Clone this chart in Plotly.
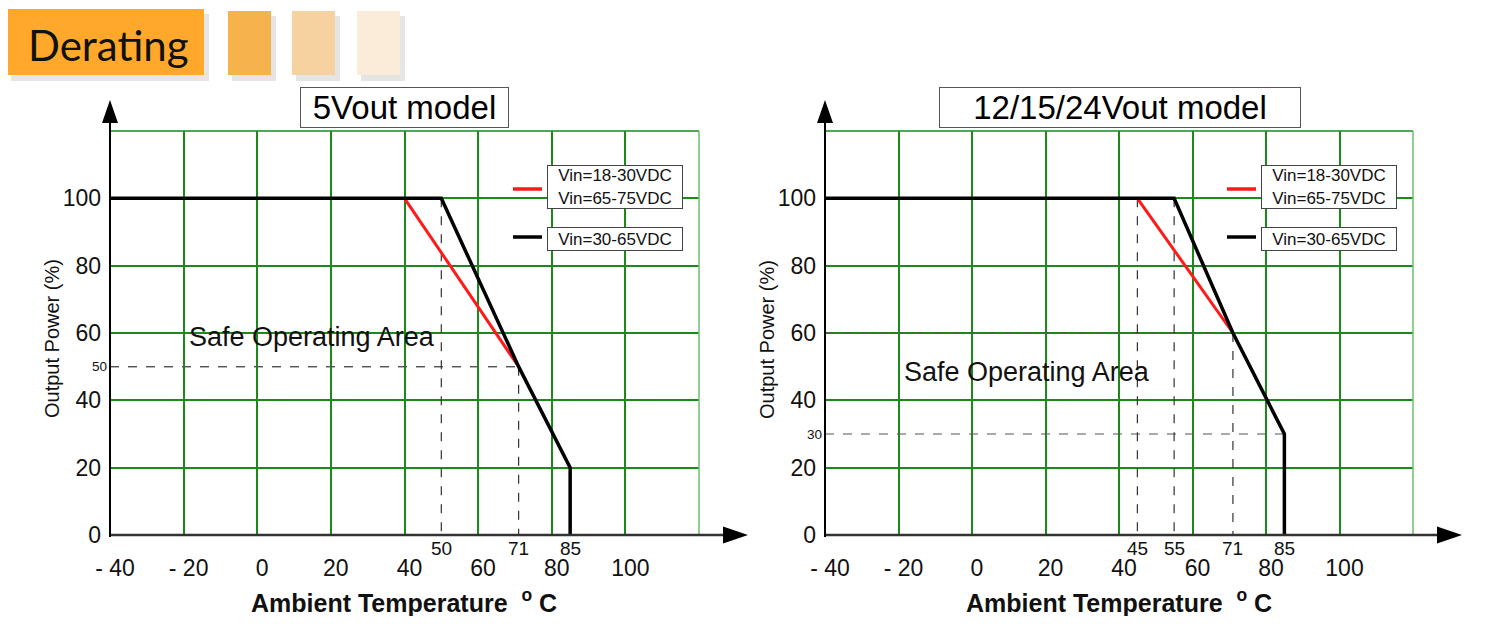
import plotly.graph_objects as go

# ---------------- data ----------------
x_ticks = [-40, -20, 0, 20, 40, 60, 80, 100]
x_tick_text = ["- 40", "- 20", "0", "20", "40", "60", "80", "100"]
x_range = [-40, 120]
y_ticks = [0, 20, 40, 60, 80, 100]
y_tick_text = ["0", "20", "40", "60", "80", "100"]
y_range = [0, 120]

left_title = "5Vout model"
left_black_x = [-40, 50, 71, 85, 85]
left_black_y = [100, 100, 50, 20, 0]
left_red_x = [40, 71]
left_red_y = [100, 50]
left_mark_x = [50, 71, 85]
left_mark_y = [50]

right_title = "12/15/24Vout model"
right_black_x = [-40, 55, 71, 85, 85]
right_black_y = [100, 100, 60, 30, 0]
right_red_x = [45, 71]
right_red_y = [100, 60]
right_mark_x = [45, 55, 71, 85]
right_mark_y = [30]

legend_red = "Vin=18-30VDC<br>Vin=65-75VDC"
legend_black = "Vin=30-65VDC"
area_text = "Safe Operating Area"
y_title = "Output Power (%)"
x_title = "<b>Ambient Temperature  <sup>o</sup> C</b>"
header = "Derating"

# ---------------- layout helpers ----------------
W, H = 1497, 624
OFF = 8                      # page body margin
FW, FH = W - 2 * OFF, H - 2 * OFF
def px(x):
    return (x - OFF) / FW
def py(y):
    return 1 - (y - OFF) / FH

FONT = "Arial, Liberation Sans, sans-serif"
GRID = "#1a8a1a"

fig = go.Figure()
shapes = []
annotations = []

panels = [
    dict(xa="x", ya="y", x0=110, x1=699, title=left_title, tb=(300, 509),
         bx=left_black_x, by=left_black_y, rx=left_red_x, ry=left_red_y,
         mx=left_mark_x, my=left_mark_y, area=(312, 337), ytx=52),
    dict(xa="x2", ya="y2", x0=825, x1=1413, title=right_title, tb=(939, 1301),
         bx=right_black_x, by=right_black_y, rx=right_red_x, ry=right_red_y,
         mx=right_mark_x, my=right_mark_y, area=(1027, 372), ytx=767),
]
Y_TOP, Y_BOT = 131, 535

for i, p in enumerate(panels):
    xa, ya = p["xa"], p["ya"]
    sfx = "" if i == 0 else "2"
    bx, by = p["bx"], p["by"]
    # horizontal guides at marked y values (foot of the black curve)
    for yv in p["my"]:
        xv = max(bx[k] for k in range(len(bx)) if by[k] == yv)
        fig.add_trace(go.Scatter(x=[x_range[0], xv], y=[yv, yv], mode="lines",
                                 line=dict(color="#555555", width=1.2, dash="dash"),
                                 xaxis=xa, yaxis=ya, showlegend=False, hoverinfo="skip"))
    # horizontal guide at the knee point where both curves meet
    knee_x = p["rx"][-1]
    knee_y = p["ry"][-1]
    fig.add_trace(go.Scatter(x=[x_range[0], knee_x], y=[knee_y, knee_y], mode="lines",
                             line=dict(color="#555555", width=1.2, dash="dash"),
                             xaxis=xa, yaxis=ya, showlegend=False, hoverinfo="skip"))
    # vertical guides
    for xv in p["mx"]:
        if xv == bx[-1]:
            continue
        if xv in bx:
            top = by[bx.index(xv)]
        elif xv in p["rx"]:
            top = p["ry"][p["rx"].index(xv)]
        else:
            top = 100
        fig.add_trace(go.Scatter(x=[xv, xv], y=[top, 0], mode="lines",
                                 line=dict(color="#333333", width=1.2, dash="dash"),
                                 xaxis=xa, yaxis=ya, showlegend=False, hoverinfo="skip"))
    # curves
    fig.add_trace(go.Scatter(x=p["rx"], y=p["ry"], mode="lines",
                             line=dict(color="#ff1a1a", width=3),
                             xaxis=xa, yaxis=ya, showlegend=False, hoverinfo="skip"))
    fig.add_trace(go.Scatter(x=bx, y=by, mode="lines",
                             line=dict(color="#000000", width=3.5),
                             xaxis=xa, yaxis=ya, showlegend=False, hoverinfo="skip"))

    axx = dict(domain=[px(p["x0"]), px(p["x1"])], range=x_range,
               tickvals=x_ticks, ticktext=x_tick_text, showgrid=True, gridcolor=GRID,
               gridwidth=1.5, zeroline=False, showline=False, ticks="", automargin=False,
               tickfont=dict(family=FONT, size=23, color="#111"),
               ticklabelstandoff=17, ticklabelshift=5, anchor=ya, fixedrange=True)
    axy = dict(domain=[py(Y_BOT), py(Y_TOP)], range=y_range,
               tickvals=y_ticks, ticktext=y_tick_text, showgrid=True, gridcolor=GRID,
               gridwidth=1.5, zeroline=False, showline=False, ticks="", automargin=False,
               tickfont=dict(family=FONT, size=23, color="#111"),
               ticklabelstandoff=8, anchor=xa, fixedrange=True)
    fig.update_layout(**{"xaxis" + sfx: axx, "yaxis" + sfx: axy})

    # top/right grid borders
    shapes.append(dict(type="line", xref=xa + " domain", yref=ya + " domain",
                       x0=0, x1=1, y0=1, y1=1, line=dict(color=GRID, width=1.5)))
    shapes.append(dict(type="line", xref=xa + " domain", yref=ya + " domain",
                       x0=1, x1=1, y0=0, y1=1, line=dict(color="#6cbf6c", width=1.5)))
    # axes with arrows
    ax0 = p["x0"]
    ax_end = p["x1"] + 24
    shapes.append(dict(type="line", xref="paper", yref="paper",
                       x0=px(ax0), x1=px(ax_end), y0=py(Y_BOT), y1=py(Y_BOT),
                       line=dict(color="#333333", width=2.5)))
    shapes.append(dict(type="path", xref="paper", yref="paper",
                       path=f"M {px(ax_end)},{py(Y_BOT-8.5)} L {px(ax_end+25)},{py(Y_BOT)} L {px(ax_end)},{py(Y_BOT+8.5)} Z",
                       fillcolor="#000", line=dict(width=0)))
    shapes.append(dict(type="line", xref="paper", yref="paper",
                       x0=px(ax0), x1=px(ax0), y0=py(Y_BOT + 2), y1=py(118),
                       line=dict(color="#000000", width=2)))
    shapes.append(dict(type="path", xref="paper", yref="paper",
                       path=f"M {px(ax0-8)},{py(123)} L {px(ax0)},{py(100)} L {px(ax0+8)},{py(123)} Z",
                       fillcolor="#000", line=dict(width=0)))

    # title box
    t0, t1 = p["tb"]
    annotations.append(dict(xref="paper", yref="paper", x=px((t0 + t1) / 2), y=py(107.5),
                            text=p["title"], showarrow=False, bgcolor="white",
                            bordercolor="#555", borderwidth=1, borderpad=0,
                            width=t1 - t0 - 2, height=39,
                            font=dict(family=FONT, size=33, color="#000"),
                            xanchor="center", yanchor="middle"))
    # legend
    lx = p["x1"] - 186
    shapes.append(dict(type="line", xref="paper", yref="paper", x0=px(lx), x1=px(lx + 29),
                       y0=py(189), y1=py(189), line=dict(color="#ff1a1a", width=3.5)))
    shapes.append(dict(type="line", xref="paper", yref="paper", x0=px(lx), x1=px(lx + 29),
                       y0=py(237), y1=py(237), line=dict(color="#000", width=3.5)))
    annotations.append(dict(xref="paper", yref="paper", x=px(lx + 34), y=py(165),
                            text=legend_red, showarrow=False, bgcolor="white",
                            bordercolor="#444", borderwidth=1, borderpad=1, width=132,
                            height=40,
                            font=dict(family=FONT, size=17, color="#111"),
                            xanchor="left", yanchor="top", align="center"))
    annotations.append(dict(xref="paper", yref="paper", x=px(lx + 34), y=py(226.5),
                            text=legend_black, showarrow=False, bgcolor="white",
                            bordercolor="#444", borderwidth=1, borderpad=1, width=132,
                            height=20,
                            font=dict(family=FONT, size=17, color="#111"),
                            xanchor="left", yanchor="top", align="center"))
    # safe operating area
    annotations.append(dict(xref="paper", yref="paper", x=px(p["area"][0]), y=py(p["area"][1]),
                            text=area_text, showarrow=False,
                            font=dict(family=FONT, size=27, color="#111"),
                            xanchor="center", yanchor="middle"))
    # special x marks
    for xv in p["mx"]:
        annotations.append(dict(xref=xa, yref="paper", x=xv, y=py(548), text=str(xv),
                                showarrow=False, font=dict(family=FONT, size=19, color="#111"),
                                xanchor="center", yanchor="middle"))
    for yv in p["my"]:
        annotations.append(dict(xref="paper", yref=ya, x=px(p["x0"] - 1), y=yv, text=str(yv),
                                showarrow=False, font=dict(family=FONT, size=13.5, color="#111"),
                                xanchor="right", yanchor="middle"))
    # axis titles
    annotations.append(dict(xref="paper", yref="paper", x=px(p["ytx"]), y=py(339),
                            text=y_title, textangle=-90, showarrow=False,
                            font=dict(family=FONT, size=20, color="#111"),
                            xanchor="center", yanchor="middle"))
    annotations.append(dict(xref="paper", yref="paper", x=px(p["x0"] + 294), y=py(601),
                            text=x_title, showarrow=False,
                            font=dict(family=FONT, size=25, color="#111"),
                            xanchor="center", yanchor="middle"))

# header with shadows
for (x0, x1, y0, y1, col) in [(7, 204, 9, 75, "#ffa82b"), (228, 271, 11, 75, "#f6b24c"),
                              (292, 335, 11, 75, "#f5d2a0"), (357, 400, 11, 75, "#fbecd9")]:
    shapes.append(dict(type="rect", xref="paper", yref="paper", x0=px(x0 + 4), x1=px(x1 + 5),
                       y0=py(y1 + 6), y1=py(y0 + 5), fillcolor="rgba(0,0,0,0.10)",
                       line=dict(width=0), layer="below"))
    shapes.append(dict(type="rect", xref="paper", yref="paper", x0=px(x0), x1=px(x1),
                       y0=py(y1), y1=py(y0), fillcolor=col, line=dict(width=0), layer="below"))
annotations.append(dict(xref="paper", yref="paper", x=px(108), y=py(45), text=header,
                        showarrow=False, font=dict(family="Lato, Open Sans, sans-serif",
                                                   size=42, color="#111"),
                        xanchor="center", yanchor="middle"))

fig.update_layout(width=FW, height=FH, margin=dict(l=0, r=0, t=0, b=0, autoexpand=False),
                  paper_bgcolor="white", plot_bgcolor="white",
                  shapes=shapes, annotations=annotations, showlegend=False)
fig.write_html("out.html", config={"displayModeBar": False})
